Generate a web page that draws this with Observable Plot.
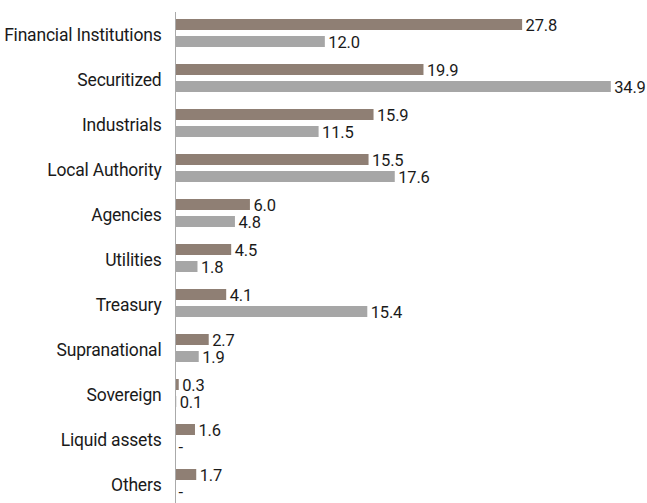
<!DOCTYPE html>
<html>
<head>
<meta charset="utf-8">
<script src="https://cdn.jsdelivr.net/npm/d3@7"></script>
<script src="https://cdn.jsdelivr.net/npm/@observablehq/plot@0.6"></script>
<style>
  html, body { margin: 0; padding: 0; background: #fff; overflow: hidden; }
  svg text { letter-spacing: -0.2px; }
</style>
</head>
<body>
<div id="chart"></div>
<script>
const categories = ["Financial Institutions", "Securitized", "Industrials", "Local Authority", "Agencies", "Utilities", "Treasury", "Supranational", "Sovereign", "Liquid assets", "Others"];
const seriesNames = ["Current", "Previous"];
const current = [27.8, 19.9, 15.9, 15.5, 6.0, 4.5, 4.1, 2.7, 0.3, 1.6, 1.7];
const previous = [12.0, 34.9, 11.5, 17.6, 4.8, 1.8, 15.4, 1.9, 0.1, null, null];
const colors = ["#8f7f74", "#a6a6a6"];

const data = categories.flatMap((c, i) => [
  {category: c, series: seriesNames[0], value: current[i]},
  {category: c, series: seriesNames[1], value: previous[i]}
]);

const chart = Plot.plot({
  width: 647,
  height: 503,
  marginLeft: 175,
  marginRight: 10,
  marginTop: 10,
  marginBottom: 0,
  style: {fontFamily: "Roboto, 'DejaVu Sans Condensed', sans-serif", fontSize: "17.5px", background: "white", color: "#1a1a1a"},
  x: {domain: [0, 37], axis: null},
  fy: {domain: categories, range: [10, 509.4], padding: 0, label: null, tickSize: 0, tickPadding: 14},
  y: {domain: seriesNames, axis: null, paddingInner: 0.35, paddingOuter: 0.45, align: 0.4},
  color: {domain: seriesNames, range: colors},
  facet: {data, y: "category", label: null},
  marks: [
    Plot.barX(data, {x: d => d.value ?? 0, y: "series", fill: "series"}),
    Plot.text(data, {x: d => d.value ?? 0, y: "series", text: d => d.value == null ? "-" : d.value.toFixed(1), dx: 3, dy: 1, textAnchor: "start", fill: "#1a1a1a", fontSize: 16.5}),
    Plot.ruleX([0], {stroke: "#aaa"})
  ]
});
document.getElementById("chart").appendChild(chart);
</script>
</body>
</html>
